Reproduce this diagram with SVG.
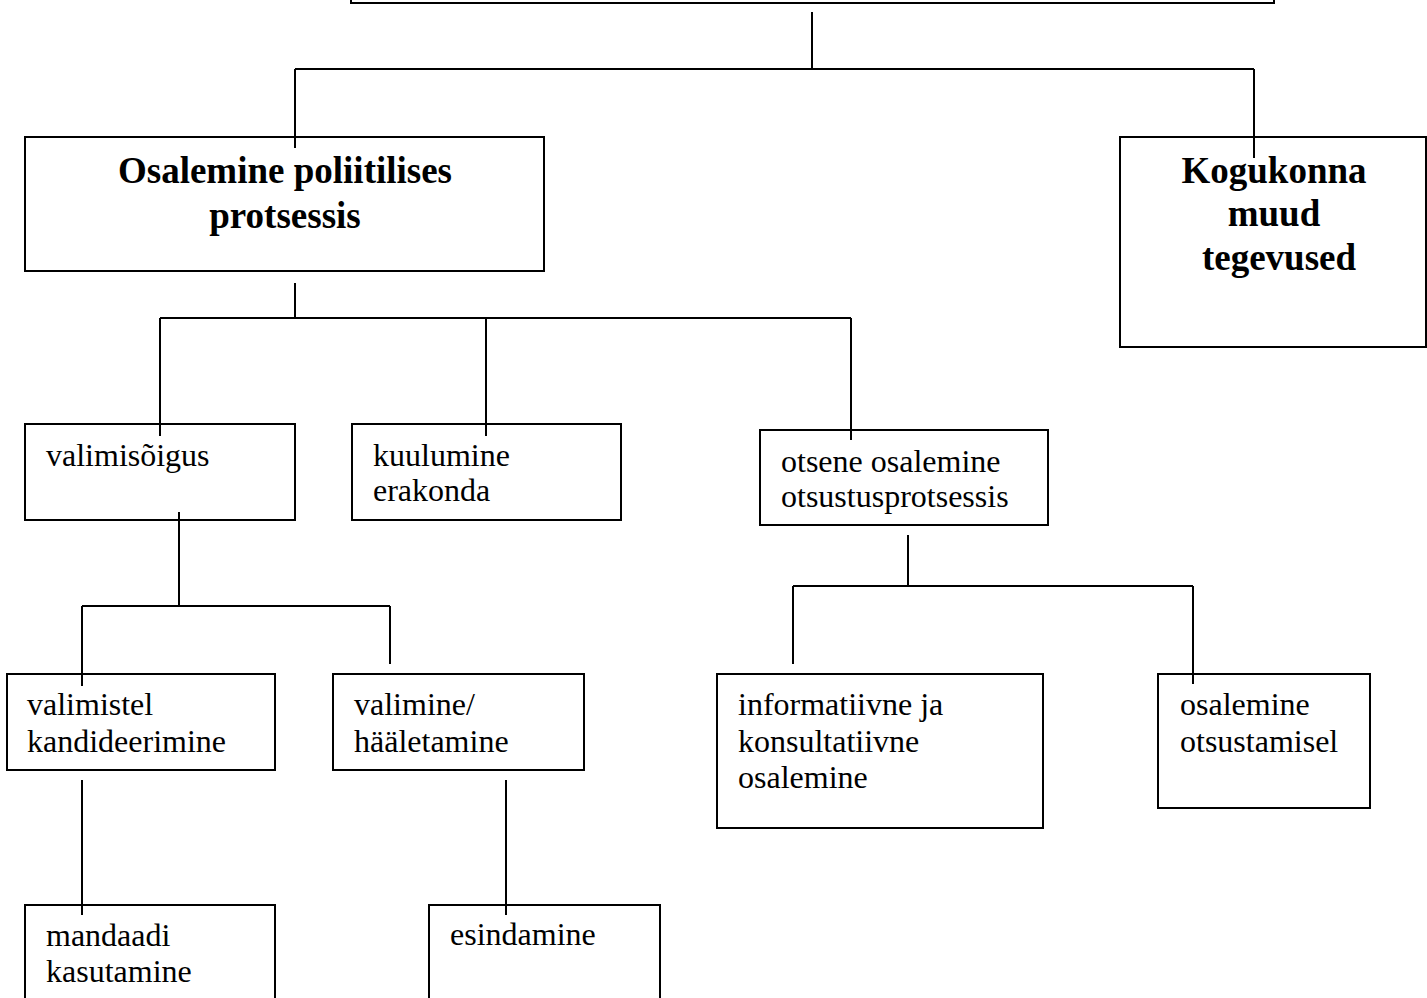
<svg xmlns="http://www.w3.org/2000/svg" width="1427" height="998" viewBox="0 0 1427 998">
<style>
.box{fill:#fff;stroke:#000;stroke-width:2}
.ln{stroke:#000;stroke-width:2;fill:none}
.t{font-family:"Liberation Serif","Times New Roman",serif;font-size:32px;fill:#000}
.b{font-family:"Liberation Serif","Times New Roman",serif;font-size:37px;font-weight:bold;fill:#000;text-anchor:middle}
</style>
<rect width="1427" height="998" fill="#fff"/>
<g id="n-top"><rect class="box" x="351" y="-50" width="923" height="53"/></g>
<g id="n-osalemine"><rect class="box" x="25" y="137" width="519" height="134"/>
<text class="b" x="285" y="183">Osalemine poliitilises</text>
<text class="b" x="285" y="228">protsessis</text></g>
<g id="n-kogukonna"><rect class="box" x="1120" y="137" width="306" height="210"/>
<text class="b" x="1274" y="183">Kogukonna</text>
<text class="b" x="1274" y="226">muud</text>
<text class="b" x="1279" y="270">tegevused</text></g>
<g id="n-valimisoigus"><rect class="box" x="25" y="424" width="270" height="96"/>
<text class="t" x="46" y="466">valimisõigus</text></g>
<g id="n-kuulumine"><rect class="box" x="352" y="424" width="269" height="96"/>
<text class="t" x="373" y="466">kuulumine</text>
<text class="t" x="373" y="501">erakonda</text></g>
<g id="n-otsene"><rect class="box" x="760" y="430" width="288" height="95"/>
<text class="t" x="781" y="472">otsene osalemine</text>
<text class="t" x="781" y="507">otsustusprotsessis</text></g>
<g id="n-valimistel"><rect class="box" x="7" y="674" width="268" height="96"/>
<text class="t" x="27" y="715">valimistel</text>
<text class="t" x="27" y="752">kandideerimine</text></g>
<g id="n-valimine"><rect class="box" x="333" y="674" width="251" height="96"/>
<text class="t" x="354" y="715">valimine/</text>
<text class="t" x="354" y="752">hääletamine</text></g>
<g id="n-informatiivne"><rect class="box" x="717" y="674" width="326" height="154"/>
<text class="t" x="738" y="715">informatiivne ja</text>
<text class="t" x="738" y="752">konsultatiivne</text>
<text class="t" x="738" y="788">osalemine</text></g>
<g id="n-otsustamisel"><rect class="box" x="1158" y="674" width="212" height="134"/>
<text class="t" x="1180" y="715">osalemine</text>
<text class="t" x="1180" y="752">otsustamisel</text></g>
<g id="n-mandaadi"><rect class="box" x="25" y="905" width="250" height="110"/>
<text class="t" x="46" y="946">mandaadi</text>
<text class="t" x="46" y="982">kasutamine</text></g>
<g id="n-esindamine"><rect class="box" x="429" y="905" width="231" height="110"/>
<text class="t" x="450" y="945">esindamine</text></g>
<g id="connectors">
<path class="ln" d="M812 12V69M295 69H1254M295 69V148M1254 69V158"/>
<path class="ln" d="M295 283V318M160 318H851M160 318V436M486 318V436M851 318V440"/>
<path class="ln" d="M179 512V606M82 606H390M82 606V686M390 606V664"/>
<path class="ln" d="M82 780V915M506 780V915"/>
<path class="ln" d="M908 535V586M793 586H1193M793 586V664M1193 586V684"/>
</g>
</svg>
